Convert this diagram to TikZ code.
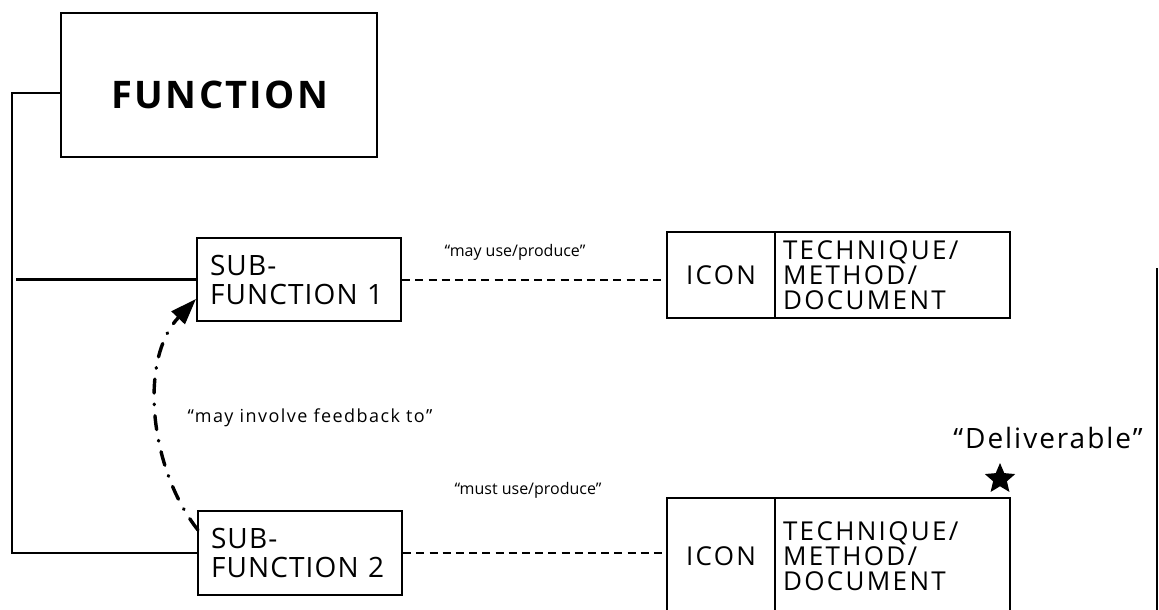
\documentclass[tikz,border=0pt]{standalone}
\usepackage{fontspec}
\setmainfont{Open Sans}
\usetikzlibrary{arrows.meta,shapes.geometric}
\tikzset{
  box/.style={draw, line width=1.1pt, rectangle, inner sep=0pt},
  leftbox/.style={box, align=left, inner xsep=6.5pt, font=\fontsize{14}{14.5}\selectfont\addfontfeatures{LetterSpace=4}},
  cellbox/.style={box, font=\fontsize{13}{12.6}\selectfont\addfontfeatures{LetterSpace=9}},
  conn/.style={line width=1.1pt},
  dashconn/.style={line width=1pt, dash pattern=on 4pt off 2.6pt},
  lbl/.style={font=\fontsize{8}{9}\selectfont, inner sep=0pt},
  fb/.style={line width=1.7pt, line cap=round, dash pattern=on 7pt off 5.5pt on 0.3pt off 5.5pt}
}
\begin{document}
\begin{tikzpicture}[x=0.5pt,y=-0.5pt]
\useasboundingbox (0,0) rectangle (1159,609);
\clip (0,0) rectangle (1159,609);
% main boxes
\node[box, minimum width=158pt, minimum height=72pt] (func) at (219,85) {};
\node[inner sep=0pt, font=\bfseries\fontsize{19}{22}\selectfont\addfontfeatures{LetterSpace=6}] (functxt) at (220,95) {FUNCTION};
\node[leftbox, minimum width=102pt, minimum height=41.5pt, text width=89pt] (sf1) at (299,279.5) {SUB-\\FUNCTION 1};
\node[leftbox, minimum width=102pt, minimum height=42pt, text width=89pt] (sf2) at (300,553) {SUB-\\FUNCTION 2};
% technique boxes
\node[cellbox, minimum width=54pt, minimum height=43pt] (icon1) at (721,275) {ICON};
\node[cellbox, minimum width=117.5pt, minimum height=43pt, align=left, text width=109.5pt, inner xsep=4pt] (tech1) at (892.5,275) {TECHNIQUE/\\METHOD/\\DOCUMENT};
\node[cellbox, minimum width=54pt, minimum height=58pt] (icon2) at (721,556) {ICON};
\node[cellbox, minimum width=117.5pt, minimum height=58pt, align=left, text width=109.5pt, inner xsep=4pt] (tech2) at (892.5,556) {TECHNIQUE/\\METHOD/\\DOCUMENT};
% tree connectors
\coordinate (trunk) at (12,93);
\coordinate (s1start) at (16,279.5);
\draw[conn] (func.west |- trunk) -- (trunk) |- (sf2.west);
\draw[conn] (s1start) -- (sf1.west);
% dashed connectors
\draw[dashconn] (sf1.east) -- (sf1.east -| icon1.west);
\draw[dashconn] (sf2.east) -- (sf2.east -| icon2.west);
% labels
\node[lbl] (l1) at (515,252) {``may use/produce''};
\node[lbl] (l2) at (528,490) {``must use/produce''};
\node[lbl, font=\fontsize{9}{10}\selectfont\addfontfeatures{LetterSpace=8}] (l3) at (310,418) {``may involve feedback to''};
% deliverable
\node[inner sep=0pt, font=\fontsize{14}{16}\selectfont\addfontfeatures{LetterSpace=7}] (deliv) at (1048,438) {``Deliverable''};
\node[star, star points=5, star point ratio=2.2, fill=black, minimum size=16pt, inner sep=0pt] (ast) at (1000,479) {};
% feedback curve
\coordinate (fbS) at (198,530);
\coordinate (fbE) at (196,299);
\draw[fb, -{Triangle[length=13pt,width=9pt]}] (fbS) .. controls (150,470) and (138,360) .. (fbE);
% page edge
\draw[line width=0.7pt] (1157,268) -- (1157,612);
\end{tikzpicture}
\end{document}
